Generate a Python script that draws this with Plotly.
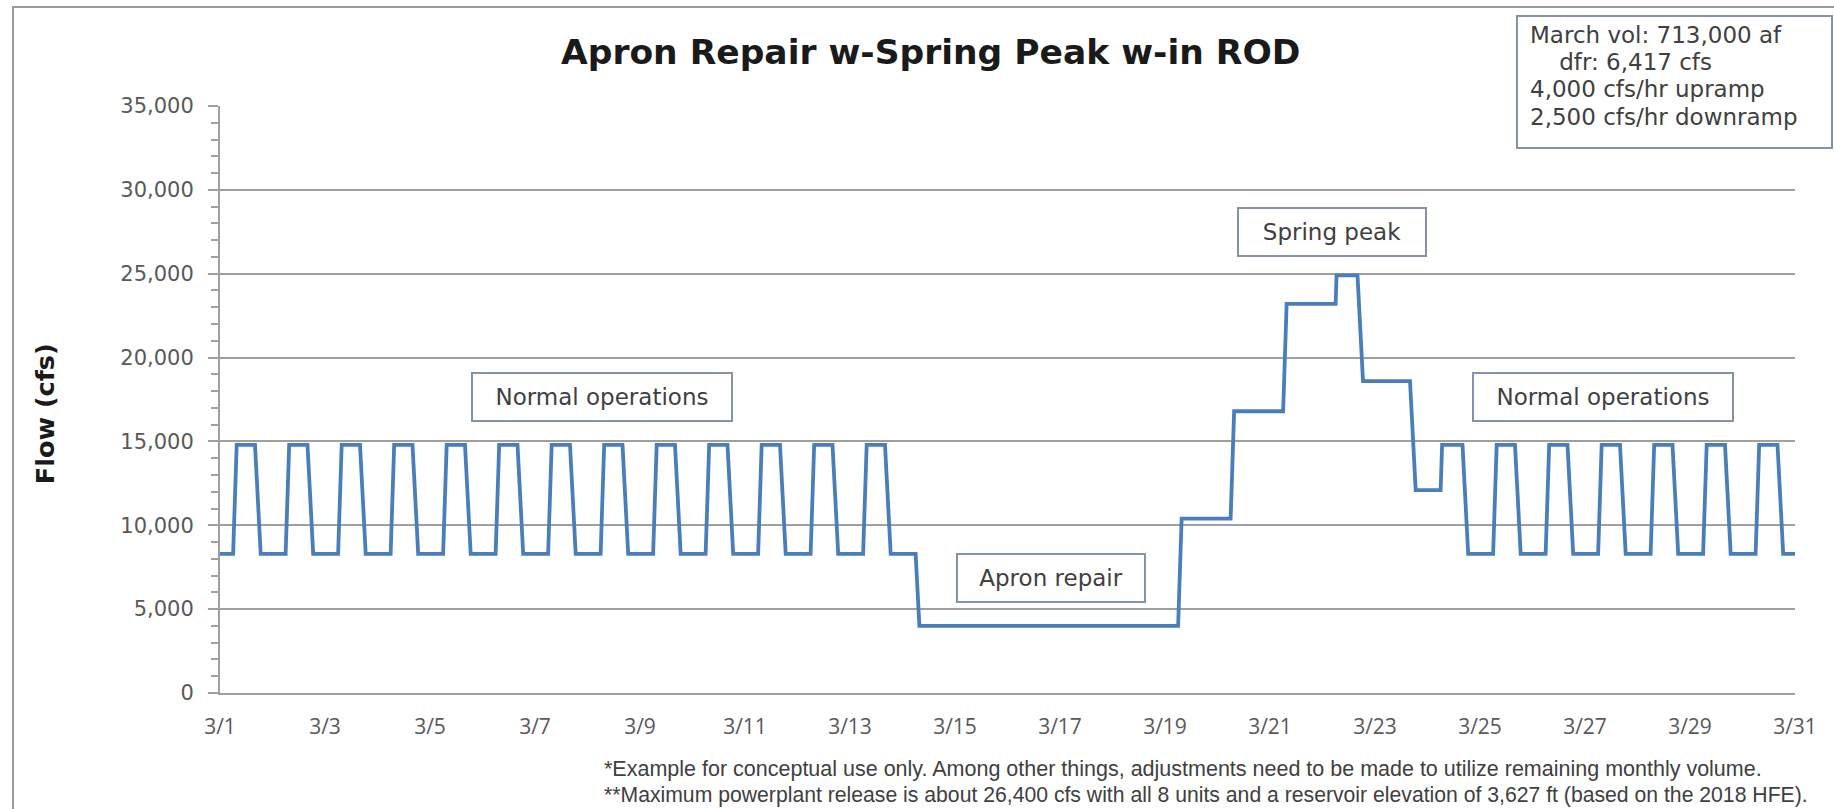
import plotly.graph_objects as go

# ---------------- data ----------------
day_labels = ["3/1", "3/3", "3/5", "3/7", "3/9", "3/11", "3/13", "3/15",
              "3/17", "3/19", "3/21", "3/23", "3/25", "3/27", "3/29", "3/31"]
label_days = [0, 2, 4, 6, 8, 10, 12, 14, 16, 18, 20, 22, 24, 26, 28, 30]

start_flow = 8300  # flow at 3/1 00:00 (cfs)
# flow reached after the morning ramp, for each day 3/1 .. 3/30
day_flow = [14800, 14800, 14800, 14800, 14800, 14800, 14800, 14800, 14800, 14800,
            14800, 14800, 14800, 4000, 4000, 4000, 4000, 4000, 10400, 16800,
            23200, 24900, 18600, 14800, 14800, 14800, 14800, 14800, 14800, 14800]
# flow reached after the evening ramp, for each day 3/1 .. 3/30
eve_flow = [8300, 8300, 8300, 8300, 8300, 8300, 8300, 8300, 8300, 8300,
            8300, 8300, 8300, 4000, 4000, 4000, 4000, 4000, 10400, 16800,
            23200, 18600, 12100, 8300, 8300, 8300, 8300, 8300, 8300, 8300]
morning_hour = 6.0
evening_hour = 16.0
upramp = 4000     # cfs/hr
downramp = 2500   # cfs/hr

info_lines = ["March vol: 713,000 af", "    dfr: 6,417 cfs",
              "4,000 cfs/hr upramp", "2,500 cfs/hr downramp"]

# ---------------- build the hourly step series ----------------
def ramp_hours(a, b):
    d = b - a
    if d == 0:
        return 0.0
    return d / upramp if d > 0 else -d / downramp

xs = [0.0]
ys = [start_flow]
prev = start_flow
for d, (lvl, eve) in enumerate(zip(day_flow, eve_flow)):
    xs += [d + morning_hour / 24, d + (morning_hour + ramp_hours(prev, lvl)) / 24]
    ys += [prev, lvl]
    xs += [d + evening_hour / 24, d + (evening_hour + ramp_hours(lvl, eve)) / 24]
    ys += [lvl, eve]
    prev = eve
xs.append(30.0)
ys.append(prev)

# ---------------- figure ----------------
W, H = 1834, 809
PL, PR, PT, PB = 220, 1795, 106, 692.7


def px(x):
    return (x - PL) / (PR - PL)


def py(y):
    return (PB - y) / (PB - PT)


LINE = "#4a7ebb"
GRID = "#a0a0a0"
BOX = "#8493ab"
TXT = "#404040"
FONT = "DejaVu Sans"
NARROW = "Liberation Sans Narrow, Liberation Sans"

fig = go.Figure()
fig.add_trace(go.Scatter(x=xs, y=ys, mode="lines",
                         line=dict(color=LINE, width=3.8),
                         hoverinfo="skip", showlegend=False))

fig.update_layout(
    width=W, height=H, autosize=False,
    margin=dict(l=PL, r=W - PR, t=PT, b=H - PB, pad=0),
    paper_bgcolor="white", plot_bgcolor="white",
    font=dict(family=FONT, color="#595959"),
    showlegend=False,
)
fig.update_xaxes(range=[0, 30], tickvals=label_days, ticktext=day_labels,
                 showgrid=False, zeroline=False, showline=True, linecolor=GRID,
                 linewidth=2, ticks="", tickfont=dict(family="Open Sans", size=21, color="#595959"),
                 ticklabelstandoff=14, fixedrange=True)
fig.update_yaxes(range=[0, 35000], dtick=5000, tickformat=",d",
                 showgrid=True, gridcolor=GRID, gridwidth=1.5,
                 zeroline=False, showline=True, linecolor=GRID, linewidth=2,
                 ticks="outside", ticklen=10, tickcolor=GRID, tickwidth=1.5,
                 minor=dict(dtick=1000, ticks="outside", ticklen=7,
                            tickcolor=GRID, tickwidth=1.5, showgrid=False),
                 tickfont=dict(family=FONT, size=21, color="#595959"),
                 ticklabelstandoff=10, fixedrange=True)

shapes = [
    # chart frame
    dict(type="rect", xref="paper", yref="paper",
         x0=px(13), x1=px(1850), y0=py(825), y1=py(7),
         line=dict(color="#9a9a9a", width=2), fillcolor="rgba(0,0,0,0)",
         layer="below"),
    # info box in top-right
    dict(type="rect", xref="paper", yref="paper",
         x0=px(1517), x1=px(1832), y0=py(148), y1=py(16),
         line=dict(color=BOX, width=2), fillcolor="white", layer="above"),
]

annotations = [
    dict(text="<b>Apron Repair w-Spring Peak w-in ROD</b>", xref="paper", yref="paper",
         x=px(930), y=py(52), showarrow=False, xanchor="center", yanchor="middle",
         font=dict(family=FONT, size=34.5, color="#1a1a1a")),
    dict(text="<b>Flow (cfs)</b>", xref="paper", yref="paper",
         x=px(45), y=py(414), showarrow=False, textangle=-90,
         xanchor="center", yanchor="middle",
         font=dict(family=FONT, size=25.5, color="#1a1a1a")),
    dict(text="*Example for conceptual use only. Among other things, adjustments need to be made to utilize remaining monthly volume.",
         xref="paper", yref="paper", x=px(602), y=py(769), showarrow=False,
         xanchor="left", yanchor="middle",
         font=dict(family=NARROW, size=21.5, color=TXT)),
    dict(text="**Maximum powerplant release is about 26,400 cfs with all 8 units and a reservoir elevation of 3,627 ft (based on the 2018 HFE).",
         xref="paper", yref="paper", x=px(602), y=py(795), showarrow=False,
         xanchor="left", yanchor="middle",
         font=dict(family=NARROW, size=21.2, color=TXT)),
]

info_y = [35, 62, 89, 117]
for line_text, yy in zip(info_lines, info_y):
    annotations.append(dict(
        text=line_text.replace(" ", "&nbsp;") if line_text.startswith(" ") else line_text,
        xref="paper", yref="paper", x=px(1528), y=py(yy), showarrow=False,
        xanchor="left", yanchor="middle", align="left",
        font=dict(family=FONT, size=23, color=TXT)))

label_boxes = [
    ("Normal operations", 602, 396.5, 258, 46),
    ("Apron repair", 1051, 578, 186, 46),
    ("Spring peak", 1332, 232, 186, 46),
    ("Normal operations", 1603, 397, 258, 46),
]
for text, cx, cy, w, h in label_boxes:
    annotations.append(dict(
        text=text, xref="paper", yref="paper", x=px(cx), y=py(cy),
        showarrow=False, xanchor="center", yanchor="middle",
        width=w, height=h, align="center", valign="middle",
        bgcolor="white", bordercolor=BOX, borderwidth=2, borderpad=0,
        font=dict(family=FONT, size=23, color=TXT)))

fig.update_layout(shapes=shapes, annotations=annotations)

fig.write_html("out.html", config={"displayModeBar": False},
               post_script="document.body.style.margin='0';")
